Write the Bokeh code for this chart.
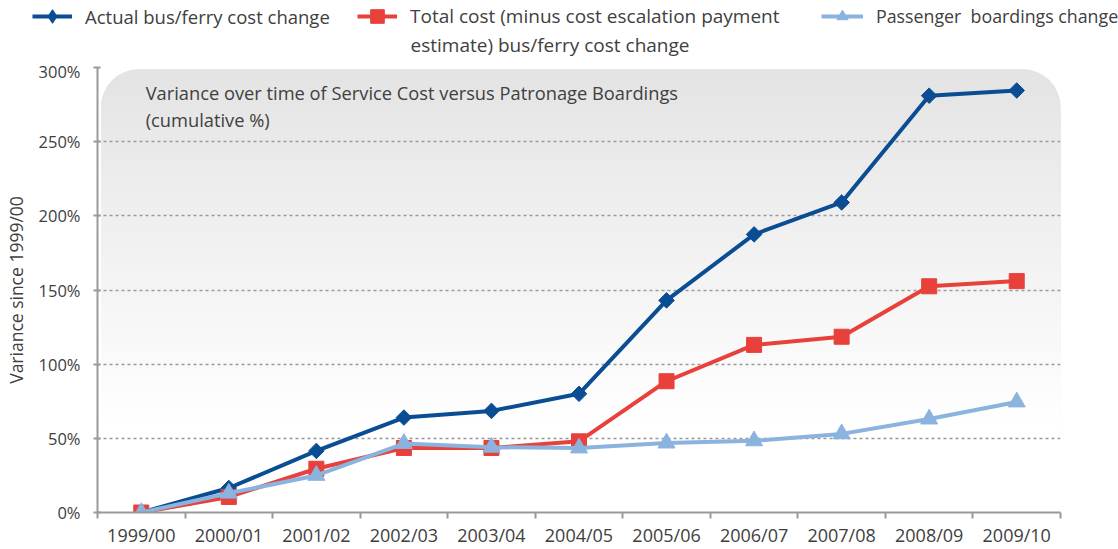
import math
from bokeh.plotting import figure
from bokeh.layouts import column
from bokeh.models import (Range1d, FixedTicker, CustomJSTickFormatter, PrintfTickFormatter,
                          BoxAnnotation, Label, Legend, LegendItem, ColumnDataSource)
from bokeh.embed import file_html
from bokeh.resources import INLINE

# ---- data ----
years = ["1999/00", "2000/01", "2001/02", "2002/03", "2003/04", "2004/05",
         "2005/06", "2006/07", "2007/08", "2008/09", "2009/10"]
actual_cost = [0, 16.5, 41.5, 64, 68.5, 80, 143, 187.5, 209, 281, 284.5]
total_cost = [0, 10.5, 29.5, 43.5, 43.5, 48, 88.5, 113, 118.5, 152.5, 156]
boardings = [0, 13, 25, 46.5, 44, 43.5, 46.8, 48.3, 53, 63, 74.5]
y_ticks = [0, 50, 100, 150, 200, 250, 300]

series_names = ["Actual bus/ferry cost change",
                "Total cost (minus cost escalation payment",
                "Passenger  boardings change"]
series2_line2 = "estimate) bus/ferry cost change"
title_text = "Variance over time of Service Cost versus Patronage Boardings\n(cumulative %)"
y_label = "Variance since 1999/00"

FONT = "Open Sans"
TXT = "#404040"
GRAY = "#9a9a9a"
C_BLUE = "#0a4d93"
C_RED = "#e8403a"
C_LIGHT = "#8ab3de"

W = 1118
LEG_H = 59
MAIN_H = 549 - LEG_H

n = len(years)
xc = [i + 0.5 for i in range(n)]
src = ColumnDataSource(dict(x=xc, a=actual_cost, t=total_cost, b=boardings))

# ================= main chart =================
p = figure(width=W, height=MAIN_H, x_range=Range1d(0, n), y_range=Range1d(0, 300),
           output_backend="svg", toolbar_location=None,
           min_border_left=95, min_border_right=58, min_border_top=8, min_border_bottom=37)
p.frame_align = False
p.outline_line_color = None
p.background_fill_color = "white"
p.border_fill_color = "white"

# gradient rounded background (stacked bands)
px_per_unit = 445 / 300.0
top_v, bot_v = 299.0, 55.0
steps = 60
radius = 38
for i in range(steps):
    yv = top_v - (top_v - bot_v) * i / steps
    d_px = (top_v - yv) * px_per_unit
    r = max(0, int(round(radius - d_px)))
    f = i / (steps - 1)
    c0, c1 = 0xe4, 0xff
    g = int(round(c0 + (c1 - c0) * f))
    col = "#%02x%02x%02x" % (g, g, g)
    box = BoxAnnotation(left=0.04, right=n, top=yv, bottom=bot_v - 2,
                        fill_color=col, fill_alpha=1.0, line_color=None, level="image",
                        border_radius=dict(top_left=r, top_right=r, bottom_right=0, bottom_left=0))
    p.add_layout(box)

# axes
p.xaxis.ticker = FixedTicker(ticks=xc, minor_ticks=list(range(n + 1)))
p.xaxis.formatter = CustomJSTickFormatter(args=dict(labels=years),
                                          code="return labels[Math.floor(tick)] || '';")
p.xaxis.major_tick_out = 0
p.xaxis.major_tick_in = 0
p.xaxis.minor_tick_out = 6
p.xaxis.minor_tick_in = 0
p.xaxis.minor_tick_line_color = GRAY
p.xaxis.minor_tick_line_width = 2
p.xaxis.major_label_standoff = 4
p.xaxis.major_label_text_font_size = "18px"

p.yaxis.ticker = FixedTicker(ticks=y_ticks)
p.yaxis.formatter = PrintfTickFormatter(format="%d%%")
p.yaxis.major_tick_out = 4
p.yaxis.major_tick_in = 3
p.yaxis.major_tick_line_color = GRAY
p.yaxis.major_tick_line_width = 2
p.yaxis.minor_tick_line_color = None
p.yaxis.major_label_standoff = 13
p.yaxis.major_label_text_font_size = "16.5px"
p.yaxis.axis_label = y_label
p.yaxis.axis_label_standoff = 8
p.yaxis.axis_label_text_font = FONT
p.yaxis.axis_label_text_font_size = "17.5px"
p.yaxis.axis_label_text_font_style = "normal"
p.yaxis.axis_label_text_color = TXT

for ax in (p.xaxis, p.yaxis):
    ax.axis_line_color = GRAY
    ax.axis_line_width = 2
    ax.major_label_text_font = FONT
    ax.major_label_text_color = TXT

p.xgrid.grid_line_color = None
p.ygrid.ticker = FixedTicker(ticks=y_ticks)
p.ygrid.grid_line_color = GRAY
p.ygrid.grid_line_dash = "3 3"
p.ygrid.grid_line_width = 1.5
p.ygrid.level = "underlay"

# series
blue_style = dict(line_color=C_BLUE, line_width=4)
red_style = dict(line_color=C_RED, line_width=4)
light_style = dict(line_color=C_LIGHT, line_width=4)
blue_mk = dict(marker="square", size=11, angle=math.pi / 4, fill_color=C_BLUE, line_color=C_BLUE)
red_mk = dict(marker="square", size=15, fill_color=C_RED, line_color=C_RED)
light_mk = dict(marker="triangle", size=17, fill_color=C_LIGHT, line_color=C_LIGHT)

p.line("x", "a", source=src, **blue_style)
p.scatter("x", "a", source=src, **blue_mk)
p.line("x", "t", source=src, **red_style)
p.scatter("x", "t", source=src, **red_mk)
p.line("x", "b", source=src, **light_style)
p.scatter("x", "b", source=src, **light_mk)

# title inside plot
p.add_layout(Label(x=0.55, y=291.4, text=title_text, text_font=FONT, text_font_size="18.3px",
                   text_color=TXT, text_baseline="top", text_align="left", text_line_height=1.05))

# ================= legend strip =================
pl = figure(width=W, height=LEG_H, x_range=Range1d(0, W), y_range=Range1d(0, LEG_H),
            output_backend="svg", toolbar_location=None,
            x_axis_location=None, y_axis_location=None,
            min_border_left=0, min_border_right=0, min_border_top=0, min_border_bottom=0)
pl.frame_align = False
pl.outline_line_color = None
pl.grid.visible = False
pl.background_fill_color = "white"
pl.border_fill_color = "white"

# legend-only renderers (hidden; the legend draws their glyphs)
r_l1 = pl.line("x", "a", source=src, visible=False, **blue_style)
r_m1 = pl.scatter("x", "a", source=src, visible=False, marker="diamond",
                  fill_color=C_BLUE, line_color=C_BLUE)
r_l2 = pl.line("x", "t", source=src, visible=False, **red_style)
r_m2 = pl.scatter("x", "t", source=src, visible=False, **red_mk)
r_l3 = pl.line("x", "b", source=src, visible=False, **light_style)
r_m3 = pl.scatter("x", "b", source=src, visible=False, **light_mk)

def make_legend(label, rends, loc, gw, gh, fs):
    lg = Legend(items=[LegendItem(label=label, renderers=rends)], location=loc,
                orientation="horizontal", glyph_width=gw, glyph_height=gh, label_standoff=13,
                padding=0, margin=0, spacing=0, border_line_color=None,
                background_fill_alpha=0, inactive_fill_alpha=0,
                label_text_font=FONT, label_text_font_size=fs, label_text_color=TXT)
    pl.add_layout(lg)

make_legend(series_names[0], [r_l1, r_m1], (32, 26), 40, 34, "18.5px")
make_legend(series_names[1], [r_l2, r_m2], (357, 26), 40, 34, "19px")
make_legend(series_names[2], [r_l3, r_m3], (821, 29), 42, 28, "17.8px")
pl.add_layout(Label(x=410, y=15, text=series2_line2, text_font=FONT, text_font_size="19px",
                    text_color=TXT, text_baseline="middle", text_align="left"))

layout = column(pl, p, spacing=0)
open("out.html", "w").write(file_html(layout, INLINE))
